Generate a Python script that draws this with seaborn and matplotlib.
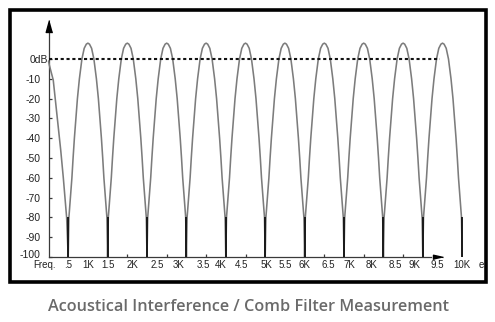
import matplotlib
matplotlib.use("Agg")
import matplotlib.pyplot as plt
import numpy as np
import pandas as pd
import seaborn as sns
from matplotlib.patches import Rectangle
from matplotlib.transforms import ScaledTranslation

# ---- measurement data (frequency in kHz, level in dB) ----
peak_khz = [1, 2, 3, 4, 5, 6, 7, 8, 9, 10]
null_khz = [0.5, 1.5, 2.5, 3.5, 4.5, 5.5, 6.5, 7.5, 8.5, 9.5, 10.5]

# shape of one comb lobe, relative to its peak frequency
lobe_offset_khz = [-0.5, -0.482, -0.444, -0.406, -0.376, -0.343, -0.305, -0.266,
                   -0.216, -0.152, -0.094, -0.04, 0.0, 0.04, 0.094, 0.152,
                   0.216, 0.266, 0.305, 0.343, 0.376, 0.406, 0.444, 0.482, 0.5]
lobe_db = [-100, -80, -70, -60, -50, -40, -30, -20, -10, 0, 5.4, 7.5, 8,
           7.5, 5.4, 0, -10, -20, -30, -40, -50, -60, -70, -80, -100]

# falling edge before the first notch
head_khz = [0.0, 0.02, 0.12, 0.165, 0.21, 0.26, 0.31, 0.376, 0.46, 0.5]
head_db = [-1, -3, -10.6, -19, -27, -37, -46, -60, -80, -100]

ytick_db = [0, -10, -20, -30, -40, -50, -60, -70, -80, -90, -100]
ytick_labels = ["0dB", "-10", "-20", "-30", "-40", "-50", "-60", "-70", "-80", "-90", "-100"]

xtick_khz = [-0.11, 0.49, 1.0, 1.51, 2.14, 2.75, 3.31, 3.92, 4.38, 4.91, 5.52,
             6.0, 6.51, 7.1, 7.63, 8.21, 8.79, 9.30, 9.86, 10.5, 10.98]
xtick_labels = ["Freq.", ".5", "1K", "1.5", "2K", "2.5", "3K", "3.5", "4K", "4.5", "5K",
                "5.5", "6K", "6.5", "7K", "8K", "8.5", "9K", "9.5", "10K", "e"]
minor_tick_khz = [1, 2, 3, 4, 5, 6, 7, 8, 9]

caption = "Acoustical Interference / Comb Filter Measurement"

# ---- assemble the response curve ----
freq = list(head_khz)
level = list(head_db)
for p in peak_khz:
    freq += [p + o for o in lobe_offset_khz]
    level += lobe_db
df = pd.DataFrame({"khz": freq, "db": level})

sns.set_theme(style="white")
plt.rcParams["font.family"] = ["Liberation Sans", "DejaVu Sans"]

W, H = 495, 322
fig = plt.figure(figsize=(W / 100, H / 100), dpi=100)
fig.patch.set_facecolor("white")

px_per_khz = 39.4
x0_px = 48.5
xmin, xmax = -1.2, 11.0
ymin, ymax = -100, 20
left_px = x0_px + xmin * px_per_khz
ax = fig.add_axes([left_px / W, (H - 257) / H,
                   (xmax - xmin) * px_per_khz / W, (ymax - ymin) * 1.98 / H])
ax.set_facecolor("none")

sns.lineplot(data=df, x="khz", y="db", color="#7c7c7c", lw=1.15,
             estimator=None, sort=False, ax=ax, zorder=2)
ax.vlines(null_khz, -100, -80, color="#111111", lw=1.3, zorder=3)
ax.hlines(0, 0, 9.94, color="#111111", lw=1.5, linestyles=(0, (1.5, 1.3)), zorder=4)

ax.set_xlim(xmin, xmax)
ax.set_ylim(ymin, ymax)
ax.set_xlabel("")
ax.set_ylabel("")

# axes drawn as arrows through the origin
for s in ["top", "right"]:
    ax.spines[s].set_visible(False)
axis_col = "#3a3a3a"
ax.spines["left"].set_position(("data", 0))
ax.spines["left"].set_bounds(-100, 14)
ax.spines["bottom"].set_bounds(0, 9.7)
for s in ["left", "bottom"]:
    ax.spines[s].set_color(axis_col)
    ax.spines[s].set_linewidth(0.9)
    ax.spines[s].set_zorder(1)
ax.plot([0], [16.7], marker=[(0, 1), (-0.55, -1), (0.55, -1)], ms=8.6,
        color="black", clip_on=False, zorder=5)
ax.plot([9.886], [-100], marker=[(1, 0), (-1, 0.45), (-1, -0.45)], ms=7.2,
        color="black", clip_on=False, zorder=5)

ax.set_yticks(ytick_db, ytick_labels)
ax.tick_params(axis="y", direction="in", length=2.5, width=0.9, color=axis_col,
               pad=6, labelsize=7.5, labelcolor="#222222", left=True)
for lab in ax.get_yticklabels():
    if lab.get_text() == "0dB":
        lab.set_transform(lab.get_transform() + ScaledTranslation(8 / 100, 0, fig.dpi_scale_trans))
    elif lab.get_text() == "-100":
        lab.set_transform(lab.get_transform() + ScaledTranslation(0, 3 / 100, fig.dpi_scale_trans))

ax.set_xticks(xtick_khz, xtick_labels)
ax.set_xticks(minor_tick_khz, minor=True)
ax.tick_params(axis="x", which="major", length=0, pad=2.5, labelsize=7,
               labelcolor="#222222", bottom=True)
ax.tick_params(axis="x", which="minor", direction="in", length=2.5, width=0.9,
               color=axis_col, bottom=True)

# outer frame
fig.patches.append(Rectangle((9.5 / W, (H - 281.5) / H), 476 / W, 272 / H,
                             transform=fig.transFigure, fill=False,
                             edgecolor="black", lw=2.6, zorder=10))

fig.text(248 / W, 1 - 307 / H, caption, ha="center", va="center",
         fontsize=11.7, color="#6a6a6a", family=["Open Sans", "DejaVu Sans"],
         weight="semibold")

fig.savefig("out.png", dpi=100)
